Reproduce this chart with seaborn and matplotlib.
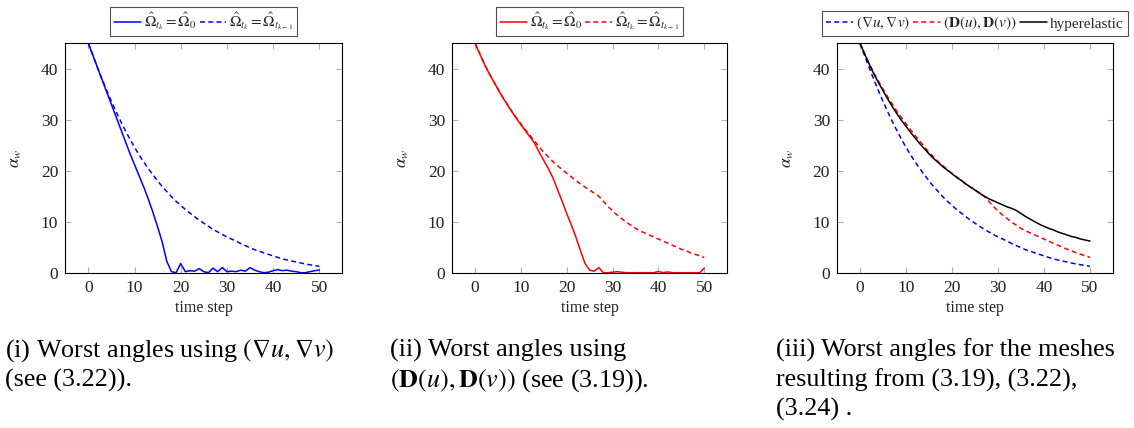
import numpy as np
import pandas as pd
import matplotlib
matplotlib.use("Agg")
import matplotlib.pyplot as plt
import seaborn as sns

# ---------------- data ----------------
time_steps = list(range(0, 51))

# (i) (grad u, grad v)
grad_fixed_ref = [45.0, 42.6, 40.2, 37.8, 35.4, 33.0, 30.6, 28.2, 25.8, 23.4,
                  21.2, 19.0, 16.8, 14.4, 11.8, 9.0, 6.0, 2.2, 0.2, 0.0,
                  1.8, 0.2, 0.4, 0.3, 0.8, 0.2, 0.0, 0.9, 0.2, 1.0,
                  0.2, 0.3, 0.2, 0.5, 0.3, 1.0, 0.5, 0.2, 0.0, 0.1,
                  0.4, 0.6, 0.4, 0.5, 0.3, 0.2, 0.0, 0.0, 0.2, 0.4, 0.5]
grad_prev_ref = [45.0, 42.6, 40.2, 37.9, 35.7, 33.6, 31.6, 29.7, 27.9, 26.2,
                 24.6, 23.1, 21.7, 20.4, 19.2, 18.0, 16.9, 15.9, 14.9, 14.0,
                 13.2, 12.4, 11.7, 11.0, 10.3, 9.7, 9.1, 8.5, 8.0, 7.5,
                 7.0, 6.6, 6.2, 5.7, 5.3, 4.9, 4.5, 4.2, 3.9, 3.6,
                 3.3, 3.0, 2.7, 2.5, 2.3, 2.1, 1.9, 1.7, 1.55, 1.4, 1.25]

# (ii) (D(u), D(v))
sym_fixed_ref = [45.0, 43.0, 41.0, 39.2, 37.6, 36.0, 34.4, 33.0, 31.6, 30.3,
                 29.0, 27.8, 26.6, 25.4, 23.6, 22.0, 20.4, 18.6, 16.3, 14.0,
                 11.6, 9.4, 7.0, 4.3, 1.8, 0.5, 0.3, 1.0, 0.0, 0.0,
                 0.1, 0.2, 0.1, 0.0, 0.0, 0.0, 0.0, 0.0, 0.0, 0.0,
                 0.25, 0.0, 0.15, 0.0, 0.0, 0.0, 0.0, 0.0, 0.0, 0.0, 0.9]
sym_prev_ref = [45.0, 43.0, 41.0, 39.2, 37.6, 36.0, 34.5, 33.1, 31.7, 30.4,
                29.2, 28.0, 26.9, 25.8, 24.7, 23.6, 22.7, 21.8, 21.0, 20.2,
                19.5, 18.8, 18.1, 17.4, 16.8, 16.2, 15.6, 15.0, 14.0, 13.0,
                12.1, 11.3, 10.6, 9.9, 9.3, 8.7, 8.2, 7.8, 7.4, 7.0,
                6.6, 6.2, 5.8, 5.4, 5.0, 4.6, 4.3, 3.9, 3.6, 3.3, 3.0]

# (iii) hyperelastic
hyperelastic = [45.0, 42.9, 40.9, 39.0, 37.3, 35.7, 34.1, 32.6, 31.2, 29.9,
                28.7, 27.5, 26.4, 25.3, 24.3, 23.3, 22.4, 21.6, 20.8, 20.1,
                19.4, 18.7, 18.1, 17.4, 16.8, 16.2, 15.6, 15.0, 14.5, 14.1,
                13.7, 13.3, 12.9, 12.6, 12.2, 11.6, 11.0, 10.5, 10.0, 9.5,
                9.1, 8.7, 8.4, 8.0, 7.7, 7.4, 7.1, 6.9, 6.6, 6.4, 6.2]

x_ticks = [0, 10, 20, 30, 40, 50]
y_ticks = [0, 10, 20, 30, 40]

lbl_fixed = r"$\hat{\Omega}_{t_k} = \hat{\Omega}_0$"
lbl_prev = r"$\hat{\Omega}_{t_k} = \hat{\Omega}_{t_{k-1}}$"
lbl_grad = r"$(\nabla u, \nabla v)$"
lbl_sym = r"$(\mathbf{D}(u), \mathbf{D}(v))$"
lbl_hyp = "hyperelastic"

captions = [
    ["(i) Worst angles using $(\\nabla u, \\nabla v)$", "(see (3.22))."],
    ["(ii) Worst angles using", "$(\\mathbf{D}(u), \\mathbf{D}(v))$ (see (3.19))."],
    ["(iii) Worst angles for the meshes", "resulting from (3.19), (3.22),", "(3.24) ."],
]

# ---------------- style ----------------
sns.set_style("ticks")
plt.rcParams["font.family"] = ["Liberation Serif", "DejaVu Serif"]
plt.rcParams["mathtext.fontset"] = "stix"

W, H = 1134, 428
fig = plt.figure(figsize=(W / 100, H / 100), dpi=100)

def px_axes(left, right, top, bottom):
    return fig.add_axes([left / W, 1 - bottom / H, (right - left) / W, (bottom - top) / H])

ax1 = px_axes(65.2, 342.4, 43.2, 272.7)
ax2 = px_axes(452.1, 727.2, 43.2, 272.7)
ax3 = px_axes(837.0, 1113.0, 43.2, 272.7)

DASH = (0, (3.2, 2.2))
LW = 1.1

def series(vals):
    return pd.DataFrame({"t": time_steps, "v": vals})

sns.lineplot(data=series(grad_fixed_ref), x="t", y="v", ax=ax1, color="#0000ff", lw=LW, label=lbl_fixed)
sns.lineplot(data=series(grad_prev_ref), x="t", y="v", ax=ax1, color="#0000ff", lw=LW, linestyle=DASH, label=lbl_prev)

sns.lineplot(data=series(sym_fixed_ref), x="t", y="v", ax=ax2, color="#ff0000", lw=LW, label=lbl_fixed)
sns.lineplot(data=series(sym_prev_ref), x="t", y="v", ax=ax2, color="#ff0000", lw=LW, linestyle=DASH, label=lbl_prev)

sns.lineplot(data=series(grad_prev_ref), x="t", y="v", ax=ax3, color="#0000ff", lw=LW, linestyle=DASH, label=lbl_grad)
sns.lineplot(data=series(sym_prev_ref), x="t", y="v", ax=ax3, color="#ff0000", lw=LW, linestyle=DASH, label=lbl_sym)
sns.lineplot(data=series(hyperelastic), x="t", y="v", ax=ax3, color="black", lw=LW, label=lbl_hyp)

FS = 11.5
for ax in (ax1, ax2, ax3):
    ax.set_xlim(-5, 55)
    ax.set_ylim(0, 45)
    ax.set_xticks(x_ticks)
    ax.set_yticks(y_ticks)
    ax.tick_params(direction="in", length=4, width=0.8, color="#b0b0b0",
                   top=True, right=True, labelsize=FS + 1, pad=5, labelcolor="#222222")
    for s in ax.spines.values():
        s.set_visible(True)
        s.set_color("black")
        s.set_linewidth(0.8)
    ax.set_xlabel("time step", fontsize=FS, labelpad=3, color="#222222")
    ax.set_ylabel(r"$\alpha_w$", fontsize=FS + 1, labelpad=12, color="#222222")
    leg = ax.legend(loc="lower center", bbox_to_anchor=(0.5, 1.03), ncol=3,
                    frameon=True, fancybox=False, edgecolor="#222222",
                    fontsize=11, handlelength=1.75, handletextpad=0.2,
                    columnspacing=0.2, borderpad=0.25, borderaxespad=0.0)
    leg.get_frame().set_linewidth(0.8)

cap_x = [5, 390, 776]
baselines = [357, 386.5, 416]
for cx, lines in zip(cap_x, captions):
    for yb, line in zip(baselines, lines):
        fig.text(cx / W, 1 - yb / H, line, ha="left", va="baseline",
                 fontsize=18.8, color="black")

fig.savefig("out.png", dpi=100)
